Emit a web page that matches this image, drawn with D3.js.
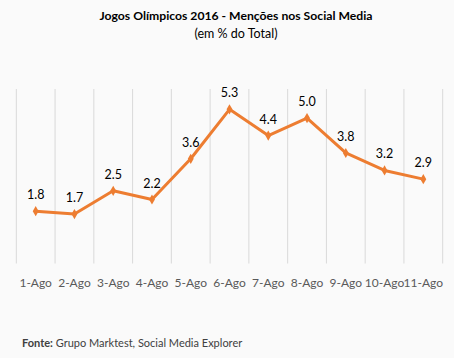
<!DOCTYPE html>
<html><head><meta charset="utf-8">
<script src="https://cdn.jsdelivr.net/npm/d3@7"></script>
<style>
html,body{margin:0;padding:0;background:#fafafa;}
svg{display:block;}
text{font-family:"Lato","Liberation Sans",Arial,sans-serif;}
</style></head>
<body><svg id="c" width="454" height="358"></svg>
<script>
const categories = ["1-Ago","2-Ago","3-Ago","4-Ago","5-Ago","6-Ago","7-Ago","8-Ago","9-Ago","10-Ago","11-Ago"];
const values = [1.8,1.7,2.5,2.2,3.6,5.3,4.4,5.0,3.8,3.2,2.9];
const valueLabels = ["1.8","1.7","2.5","2.2","3.6","5.3","4.4","5.0","3.8","3.2","2.9"];
const titleText = "Jogos Olímpicos 2016 - Menções nos Social Media";
const subtitleText = "(em % do Total)";
const sourceBold = "Fonte:";
const sourceText = " Grupo Marktest, Social Media Explorer";

const svg = d3.select("#c");
const x = d3.scaleBand().domain(categories).range([16.3, 442.7]).padding(0);
const y = d3.scaleLinear().domain([0, 6]).range([263.5, 89]);

const edges = categories.map(c => x(c)).concat([x.range()[1]]);
svg.append("g").selectAll("line").data(edges).join("line")
  .attr("x1", d => d).attr("x2", d => d)
  .attr("y1", y(6)).attr("y2", y(0))
  .attr("stroke", "#d9d9d9").attr("stroke-width", 1);

const xAxis = d3.axisBottom(x).tickSize(0).tickPadding(0);
const ax = svg.append("g").attr("transform", `translate(0,${y(0)})`).call(xAxis);
ax.select(".domain").remove();
ax.selectAll("text").attr("dy", null).attr("y", 23)
  .attr("font-size", 12).attr("fill", "#595959")
  .style("font-family", '"Lato","Liberation Sans",Arial,sans-serif');

const cx = d => x(d) + x.bandwidth() / 2;
const line = d3.line().x((d, i) => cx(categories[i])).y(d => y(d));
svg.append("path").datum(values).attr("d", line)
  .attr("fill", "none").attr("stroke", "#ED7D31").attr("stroke-width", 3)
  .attr("stroke-linejoin", "round");

svg.append("g").selectAll("path").data(values).join("path")
  .attr("d", d3.symbol().type(d3.symbolDiamond).size(30))
  .attr("transform", (d, i) => `translate(${cx(categories[i])},${y(d)})`)
  .attr("fill", "#ED7D31");

svg.append("g").selectAll("text").data(values).join("text")
  .attr("x", (d, i) => cx(categories[i]))
  .attr("y", d => y(d) - 12)
  .attr("text-anchor", "middle")
  .attr("font-size", 12.5).attr("fill", "#000")
  .text((d, i) => valueLabels[i]);

svg.append("text").attr("x", 236).attr("y", 20)
  .attr("text-anchor", "middle").attr("font-size", 12.2).attr("font-weight", "bold")
  .attr("fill", "#000").text(titleText);
svg.append("text").attr("x", 236).attr("y", 38)
  .attr("text-anchor", "middle").attr("font-size", 12.5)
  .attr("fill", "#000").text(subtitleText);

const src = svg.append("text").attr("x", 22).attr("y", 346.5)
  .attr("font-size", 11).attr("fill", "#404040");
src.append("tspan").attr("font-weight", "bold").text(sourceBold);
src.append("tspan").text(sourceText);
</script></body></html>
